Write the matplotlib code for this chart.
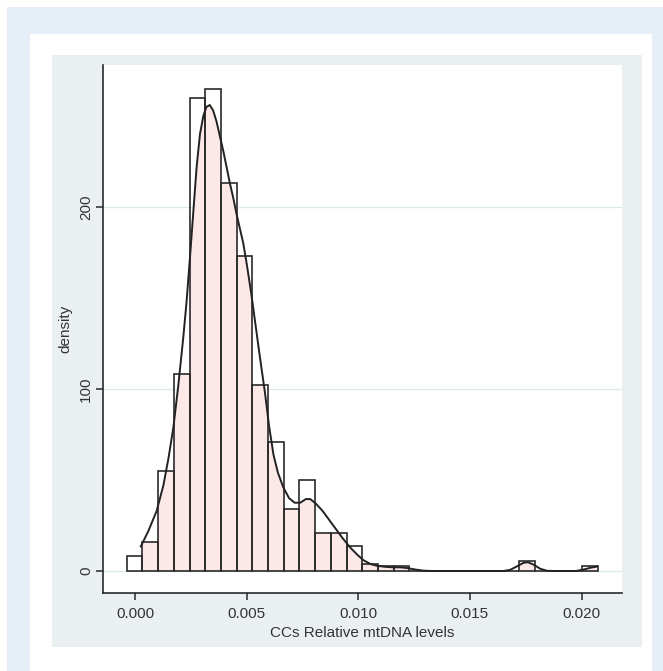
import matplotlib
matplotlib.use("Agg")
import matplotlib.pyplot as plt
from matplotlib.patches import Rectangle, Polygon
import numpy as np

plt.rcParams['font.family'] = ['Liberation Sans', 'DejaVu Sans']

# histogram: 30 bins starting at bin_start, width bin_width
bin_start = -0.00037
bin_width = 0.000703
bar_heights = [8, 16, 55, 108, 260, 265, 213, 173, 102, 71,
               34, 50, 21, 21, 13.5, 4, 2.5, 2.5, 0, 0,
               0, 0, 0, 0, 0, 5.5, 0, 0, 0, 3]

# kernel density curve
kde_x = [0.00026, 0.00060, 0.00097, 0.00127, 0.00150, 0.00172, 0.00194, 0.00216,
         0.00231, 0.00246, 0.00261, 0.00276, 0.00291, 0.00306, 0.00320, 0.00335,
         0.00350, 0.00365, 0.00380, 0.00395, 0.00410, 0.00425, 0.00440, 0.00455,
         0.00470, 0.00485, 0.00500, 0.00520, 0.00540, 0.00560, 0.00582, 0.00600,
         0.00620, 0.00640, 0.00664, 0.00690, 0.00715, 0.00740, 0.00765, 0.00785,
         0.00810, 0.00840, 0.00870, 0.00900, 0.00930, 0.00963, 0.00995, 0.01022,
         0.01055, 0.01085, 0.01120, 0.01155, 0.01190, 0.01220, 0.01255, 0.01290,
         0.01330, 0.01650, 0.01680, 0.01710, 0.01740, 0.01760, 0.01785, 0.01815,
         0.01845, 0.01880, 0.01975, 0.02010, 0.02040, 0.02068]
kde_y = [13.5, 22, 33, 47, 62, 79, 102, 128,
         148, 172, 197, 222, 240, 250, 255, 256,
         253, 247, 239, 231, 222, 213, 205, 196,
         188, 180, 169, 153, 135, 117, 98, 80,
         64, 54, 46, 40, 37.5, 37.5, 39.5, 39.5,
         37, 33, 28, 23, 18, 13, 9, 6,
         3.8, 2.8, 2.3, 2, 2, 1.6, 0.8, 0.2,
         0, 0, 0.6, 2.5, 4.5, 4.8, 3.5, 1.2,
         0.1, 0, 0, 0.8, 1.8, 2.4]

x_ticks = [0.000, 0.005, 0.010, 0.015, 0.020]
y_ticks = [0, 100, 200]

W, H = 663, 671
fig = plt.figure(figsize=(W / 100, H / 100), dpi=100, facecolor='white')


def px_rect(x0, y0, x1, y1, color):
    # pixel box (top-left origin) -> figure fraction rectangle
    r = Rectangle((x0 / W, 1 - y1 / H), (x1 - x0) / W, (y1 - y0) / H,
                  transform=fig.transFigure, facecolor=color, edgecolor='none', zorder=-10)
    fig.patches.append(r)


px_rect(7, 7, W, H, '#e6eef8')
px_rect(30, 34, 652, H, 'white')
px_rect(52, 55, 642, 647, '#eaf0f2')

ax = fig.add_axes([103 / W, 1 - 593 / H, (622 - 103) / W, (593 - 65) / H])
ax.set_facecolor('white')

edges = bin_start + bin_width * np.arange(len(bar_heights))
kde_x = np.array(kde_x)
kde_y = np.array(kde_y)

# pink fill = bars clipped to the area under the density curve
pink = ax.bar(edges, bar_heights, width=bin_width, align='edge',
              color='#fde8e8', edgecolor='none', zorder=2)
clip = Polygon(np.column_stack([np.r_[kde_x[0], kde_x, kde_x[-1]],
                                np.r_[0, kde_y, 0]]),
               closed=True, transform=ax.transData)
for p in pink:
    p.set_clip_path(clip)

ax.bar(edges, bar_heights, width=bin_width, align='edge',
       facecolor='none', edgecolor='#2a2a2a', linewidth=1.2, zorder=3)
ax.plot(kde_x, kde_y, color='#222222', linewidth=1.4, zorder=4)

ax.set_xlim(-0.001433, 0.02181)
ax.set_ylim(-12.1, 278)
ax.set_xticks(x_ticks)
ax.set_xticklabels(['%.3f' % t for t in x_ticks])
ax.set_yticks(y_ticks)
ax.set_yticklabels([str(t) for t in y_ticks], rotation=90, va='center')

for yv in y_ticks:
    ax.axhline(yv, color='#dce9ec', linewidth=0.9, zorder=1)

for s in ['top', 'right']:
    ax.spines[s].set_visible(False)
for s in ['left', 'bottom']:
    ax.spines[s].set_color('#2a2a2a')
    ax.spines[s].set_linewidth(1.2)

ax.tick_params(axis='both', length=5, width=1.1, color='#2a2a2a',
               labelsize=11, labelcolor='#333333')
ax.tick_params(axis='x', pad=5)
ax.tick_params(axis='y', pad=2)

ax.set_xlabel('CCs Relative mtDNA levels', fontsize=11, color='#333333', labelpad=4)
ax.set_ylabel('density', fontsize=11, color='#333333', labelpad=5)

fig.savefig('out.png', dpi=100, facecolor=fig.get_facecolor())
